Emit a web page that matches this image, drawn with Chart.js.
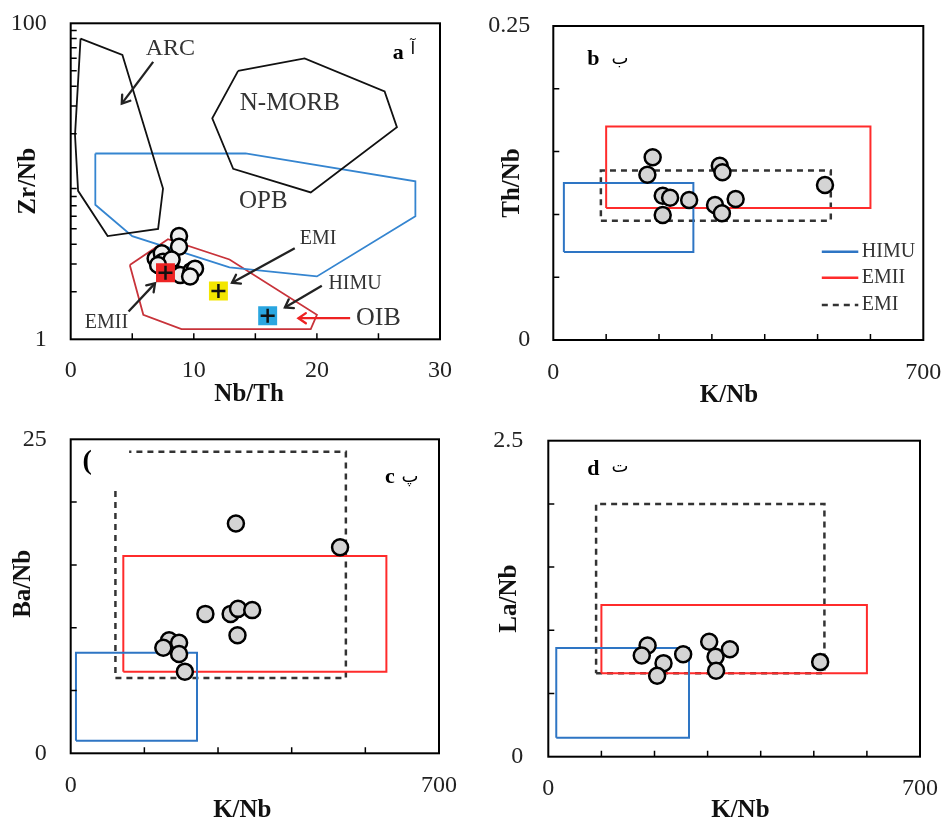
<!DOCTYPE html>
<html>
<head>
<meta charset="utf-8">
<script src="https://cdn.jsdelivr.net/npm/chart.js@4.4.0/dist/chart.umd.min.js"></script>
<style>
  html, body { margin: 0; padding: 0; background: #fff; }
  #wrap { position: relative; width: 942px; height: 823px; overflow: hidden; }
  canvas { position: absolute; }
</style>
</head>
<body>
<div id="wrap">
  <canvas id="chartA" style="left:0;top:0"></canvas>
  <canvas id="chartB" style="left:471px;top:0"></canvas>
  <canvas id="chartC" style="left:0;top:411px"></canvas>
  <canvas id="chartD" style="left:471px;top:411px"></canvas>
</div>
<script>
const SERIF = '"Liberation Serif", "Times New Roman", serif';
const ARABIC = '"DejaVu Sans", sans-serif';

// panel a: Nb/Th vs Zr/Nb
const aNbTh = [8.8, 8.8, 6.9, 7.4, 7.5, 8.1, 8.9, 9.8, 10.1, 9.7, 8.2, 7.1];
const aZrNb = [4.5, 3.85, 3.25, 3.5, 3.1, 2.9, 2.55, 2.7, 2.8, 2.5, 3.2, 2.95];
const arcNbTh = [0.8, 4.2, 7.5, 7.1, 3.0, 0.6, 0.35, 0.8];
const arcZrNb = [80, 63, 9.0, 5.0, 4.5, 8.7, 19.6, 80];
const morbNbTh = [13.6, 19.0, 25.5, 26.5, 19.5, 13.2, 11.5, 13.6];
const morbZrNb = [50, 60, 37, 22, 8.5, 12, 25, 50];
const opbNbTh = [2, 14.2, 28, 28, 20, 12.9, 5, 2, 2];
const opbZrNb = [15, 15, 10, 6, 2.5, 2.85, 4.5, 7.1, 15];
const oibNbTh = [4.8, 7.9, 12.9, 20, 19.5, 9, 5.9, 4.8];
const oibZrNb = [2.95, 4.3, 3.2, 1.43, 1.16, 1.16, 1.43, 2.95];
const endNames = ['EMII', 'EMI', 'HIMU'];
const endNbTh = [7.7, 12, 16];
const endZrNb = [2.64, 2.02, 1.41];
const aNames = ['ARC', 'N-MORB', 'OPB', 'EMI', 'HIMU', 'EMII', 'OIB'];
const aNameX = [8.1, 17.8, 15.65, 20.1, 23.1, 2.9, 25];
const aNameY = [69.5, 30.9, 7.43, 4.31, 2.26, 1.27, 1.36];
const arrowX = [[6.7, 4.15], [18.2, 13.1], [20.4, 17.4], [4.7, 6.85], [22.7, 18.5]];
const arrowY = [[57, 31], [3.77, 2.28], [2.18, 1.59], [1.50, 2.26], [1.36, 1.36]];
const aXLabels = [0, 10, 20, 30];
const aYLabels = [1, 100];
const aXTicks = [5, 10, 15, 20, 25];
const aYTicks = [2, 3, 4, 5, 6, 7, 8, 9, 20, 30, 40, 50, 60, 70, 80, 90];

// panels b-d: K/Nb against Th/Nb, Ba/Nb, La/Nb
const boxNames = ['HIMU', 'EMII', 'EMI'];
const kLabels = [0, 700];
const kTicks = [100, 200, 300, 400, 500, 600];
const kTicksC = [140, 280, 420, 560];

const bKNb = [188, 178, 207, 221, 207, 257, 315, 320, 306, 319, 345, 514];
const bThNb = [0.1455, 0.1316, 0.1149, 0.1133, 0.0995, 0.1115, 0.1388, 0.1335, 0.1075, 0.1009, 0.1123, 0.1234];
const bBoxK = [[20, 265], [100, 600], [90, 525]];
const bBoxV = [[0.07, 0.125], [0.105, 0.17], [0.095, 0.135]];
const bYLabels = [0, 0.25];
const bYTicks = [0.05, 0.1, 0.15, 0.2];

const cKNb = [314, 512, 256, 304, 318, 345, 317, 187, 206, 176, 206, 217];
const cBaNb = [18.3, 16.4, 11.1, 11.1, 11.5, 11.4, 9.4, 9.0, 8.8, 8.4, 7.9, 6.5];
const cBoxK = [[10, 240], [100, 600], [85, 523]];
const cBoxV = [[1, 8], [6.5, 15.7], [6, 24]];
const cYLabels = [0, 25];
const cYTicks = [5, 10, 15, 20];

const dKNb = [187, 176, 217, 205, 254, 303, 315, 316, 342, 512];
const dLaNb = [0.88, 0.80, 0.74, 0.64, 0.81, 0.91, 0.79, 0.68, 0.85, 0.75];
const dBoxK = [[15, 265], [100, 600], [90, 520]];
const dBoxV = [[0.15, 0.86], [0.66, 1.2], [0.66, 2.0]];
const dYLabels = [0, 2.5];
const dYTicks = [0.5, 1, 1.5, 2];

const pts = (xs, ys) => xs.map((x, i) => ({ x, y: ys[i] }));
const rect = (xr, yr) => [
  { x: xr[0], y: yr[0] }, { x: xr[1], y: yr[0] }, { x: xr[1], y: yr[1] },
  { x: xr[0], y: yr[1] }, { x: xr[0], y: yr[0] }
];

function outline(data, color, width, dash, extra) {
  return Object.assign({
    data, showLine: true, borderColor: color, borderWidth: width, borderDash: dash || [],
    pointRadius: 0, fill: false, tension: 0, order: 5
  }, extra || {});
}
function samples(data, fill) {
  return {
    data, pointStyle: 'circle', pointRadius: 8, borderWidth: 2.5, pointBorderWidth: 2.5,
    backgroundColor: fill, borderColor: '#000', order: 1
  };
}
const boxStyles = [['#2e75c4', 2, []], ['#ff2b2b', 2, []], ['#333', 2.5, [6, 5]]];
function boxSets(bk, bv) {
  return boxNames.map((n, i) => outline(rect(bk[i], bv[i]), boxStyles[i][0], boxStyles[i][1], boxStyles[i][2], { label: n }));
}

function decor(cfg) {
  return {
    id: 'decor',
    afterDatasetsDraw(chart) {
      const ctx = chart.ctx, xs = chart.scales.x, ys = chart.scales.y, a = chart.chartArea;
      ctx.save();
      // open arrow heads
      chart.data.datasets.forEach((ds, i) => {
        if (!ds.arrow) return;
        const p = chart.getDatasetMeta(i).data;
        const p1 = p[p.length - 2], p2 = p[p.length - 1];
        const ang = Math.atan2(p2.y - p1.y, p2.x - p1.x);
        const L = 9, spread = 0.6;
        ctx.strokeStyle = ds.borderColor;
        ctx.lineWidth = ds.borderWidth;
        ctx.lineCap = 'round';
        ctx.beginPath();
        ctx.moveTo(p2.x - L * Math.cos(ang - spread), p2.y - L * Math.sin(ang - spread));
        ctx.lineTo(p2.x, p2.y);
        ctx.lineTo(p2.x - L * Math.cos(ang + spread), p2.y - L * Math.sin(ang + spread));
        ctx.stroke();
      });
      // white text box over the dashed corner (panel c)
      if (cfg.cover) {
        const x0 = Math.max(xs.getPixelForValue(cfg.cover[0]), a.left + 1.5), x1 = xs.getPixelForValue(cfg.cover[1]);
        const y0 = Math.max(ys.getPixelForValue(cfg.cover[3]), a.top + 1.5), y1 = ys.getPixelForValue(cfg.cover[2]);
        ctx.fillStyle = '#fff';
        ctx.fillRect(x0, y0, x1 - x0, y1 - y0);
      }
      // frame
      ctx.strokeStyle = '#000';
      ctx.lineWidth = 2;
      ctx.lineCap = 'butt';
      ctx.strokeRect(a.left, a.top, a.right - a.left, a.bottom - a.top);
      // inner ticks
      ctx.lineWidth = 1.5;
      ctx.beginPath();
      cfg.xTicks.forEach(v => { const px = xs.getPixelForValue(v); ctx.moveTo(px, a.bottom); ctx.lineTo(px, a.bottom - 6); });
      cfg.yTicks.forEach(v => { const py = ys.getPixelForValue(v); ctx.moveTo(a.left, py); ctx.lineTo(a.left + 6, py); });
      ctx.stroke();
      // texts
      ctx.textAlign = 'center';
      ctx.textBaseline = 'middle';
      cfg.texts.forEach(t => {
        ctx.font = (t.weight || 'normal') + ' ' + t.size + 'px ' + (t.font || SERIF);
        ctx.fillStyle = t.color || '#333';
        ctx.fillText(t.text, xs.getPixelForValue(t.x), ys.getPixelForValue(t.y));
      });
      // legend (panel b)
      if (cfg.legend) {
        const rows = [225.7, 251.7, 279];
        chart.data.datasets.filter(d => d.label).forEach((d, i) => {
          const y = a.top + rows[i];
          ctx.strokeStyle = d.borderColor;
          ctx.lineWidth = 2.5;
          ctx.setLineDash(d.borderDash);
          ctx.beginPath();
          ctx.moveTo(a.right - 101.5, y);
          ctx.lineTo(a.right - 65, y);
          ctx.stroke();
          ctx.setLineDash([]);
          ctx.font = '20px ' + SERIF;
          ctx.fillStyle = '#333';
          ctx.textAlign = 'left';
          ctx.fillText(d.label, a.right - 61.5, y);
        });
      }
      ctx.restore();
    }
  };
}

function scaleOpts(s, axis, size) {
  return {
    type: s.type || 'linear', min: s.min, max: s.max,
    grid: { display: false, drawTicks: false },
    border: { display: false },
    ticks: {
      font: { family: SERIF, size: 24 }, color: '#222', padding: s.pad,
      maxRotation: 0, autoSkip: false, callback: v => String(v)
    },
    afterBuildTicks: sc => { sc.ticks = s.labels.map(v => ({ value: v })); },
    afterFit: sc => {
      // no extra room for overflowing end labels, the frame is placed by hand
      sc.paddingTop = 0; sc.paddingBottom = 0; sc.paddingLeft = 0; sc.paddingRight = 0;
      if (axis === 'x') sc.height = size; else sc.width = size;
    },
    title: {
      display: true, text: s.title, color: '#111',
      font: { family: SERIF, size: 25, weight: 'bold', lineHeight: 1 },
      padding: axis === 'x' ? { top: 0, bottom: s.tpad } : { top: s.tpad, bottom: 0 }
    }
  };
}

function makeChart(id, W, H, area, xs, ys, datasets, cfg) {
  const el = document.getElementById(id);
  el.width = W; el.height = H;
  el.style.width = W + 'px'; el.style.height = H + 'px';
  return new Chart(el, {
    type: 'scatter',
    data: { datasets },
    options: {
      responsive: false, animation: false, devicePixelRatio: 1, events: [],
      layout: { padding: { left: 0, top: area.t, right: W - area.r, bottom: 0 } },
      plugins: { legend: { display: false }, tooltip: { enabled: false } },
      scales: { x: scaleOpts(xs, 'x', H - area.b), y: scaleOpts(ys, 'y', area.l) }
    },
    plugins: [decor(cfg)]
  });
}

// ---- panel a ----
const endColors = ['#ee2424', '#f3e600', '#2aa6e0'];
const aSets = [
  { data: pts(endNbTh, endZrNb), pointStyle: 'cross', pointRadius: 7, borderWidth: 2.5, pointBorderWidth: 2.5, borderColor: '#111', order: -1 },
  { data: pts(endNbTh, endZrNb), pointStyle: 'rect', pointRadius: 13.4, borderWidth: 0, pointBorderWidth: 0, backgroundColor: endColors, borderColor: endColors, order: 0 },
  samples(pts(aNbTh, aZrNb), '#efefef'),
  outline(pts(arcNbTh, arcZrNb), '#111', 1.8),
  outline(pts(morbNbTh, morbZrNb), '#111', 1.8),
  outline(pts(opbNbTh, opbZrNb), '#3585d0', 1.8),
  outline(pts(oibNbTh, oibZrNb), '#c8333a', 1.8)
].concat(arrowX.map((ax, i) => outline(pts(ax, arrowY[i]), i === 4 ? '#ee2222' : '#222', 2.3, [], { arrow: true, order: 3 })));
const aSizes = [24, 25, 25, 20, 20, 20, 26];
const aTexts = aNames.map((n, i) => ({ text: n, x: aNameX[i], y: aNameY[i], size: aSizes[i] }))
  .concat([
    { text: 'a', x: 26.6, y: 64.6, size: 22, weight: 'bold', color: '#000' },
    { text: 'آ', x: 27.8, y: 67.8, size: 17, font: ARABIC, color: '#000' }
  ]);
makeChart('chartA', 471, 411, { l: 70.7, t: 23.3, r: 440, b: 339.3 },
  { min: 0, max: 30, labels: aXLabels, title: 'Nb/Th  ', pad: 17, tpad: 4 },
  { type: 'logarithmic', min: 1, max: 100, labels: aYLabels, title: 'Zr/Nb', pad: 24, tpad: 16 },
  aSets, { xTicks: aXTicks, yTicks: aYTicks, texts: aTexts });

// ---- panel b ----
makeChart('chartB', 471, 411, { l: 82.3, t: 26, r: 452.3, b: 340 },
  { min: 0, max: 700, labels: kLabels, title: 'K/Nb   ', pad: 18, tpad: 3 },
  { min: 0, max: 0.25, labels: bYLabels, title: 'Th/Nb', pad: 23, tpad: 29 },
  [samples(pts(bKNb, bThNb), '#d4d4d4')].concat(boxSets(bBoxK, bBoxV)),
  {
    xTicks: kTicks, yTicks: bYTicks, legend: true, texts: [
      { text: 'b', x: 75.7, y: 0.2235, size: 22, weight: 'bold', color: '#000' },
      { text: 'ب', x: 126, y: 0.2236, size: 18, font: ARABIC, color: '#000' }
    ]
  });

// ---- panel c ----
makeChart('chartC', 471, 412, { l: 70.7, t: 28.3, r: 439, b: 342.3 },
  { min: 0, max: 700, labels: kLabels, title: 'K/Nb    ', pad: 18, tpad: 0 },
  { min: 0, max: 25, labels: cYLabels, title: '    Ba/Nb', pad: 24, tpad: 11 },
  [samples(pts(cKNb, cBaNb), '#d4d4d4')].concat(boxSets(cBoxK, cBoxV)),
  {
    xTicks: kTicksC, yTicks: cYTicks, cover: [0, 111, 21.1, 25], texts: [
      { text: '(', x: 31.5, y: 23.2, size: 28, weight: 'bold', color: '#000' },
      { text: 'c', x: 606.8, y: 22.0, size: 22, weight: 'bold', color: '#000' },
      { text: 'پ', x: 644.8, y: 22.0, size: 18, font: ARABIC, color: '#000' }
    ]
  });

// ---- panel d ----
makeChart('chartD', 471, 412, { l: 77.3, t: 29.7, r: 449, b: 345.7 },
  { min: 0, max: 700, labels: kLabels, title: '  K/Nb', pad: 18, tpad: 0 },
  { min: 0, max: 2.5, labels: dYLabels, title: 'La/Nb', pad: 25, tpad: 26 },
  [samples(pts(dKNb, dLaNb), '#d4d4d4')].concat(boxSets(dBoxK, dBoxV)),
  {
    xTicks: kTicks, yTicks: dYTicks, texts: [
      { text: 'd', x: 84.7, y: 2.274, size: 22, weight: 'bold', color: '#000' },
      { text: 'ت', x: 135, y: 2.29, size: 18, font: ARABIC, color: '#000' }
    ]
  });
</script>
</body>
</html>
